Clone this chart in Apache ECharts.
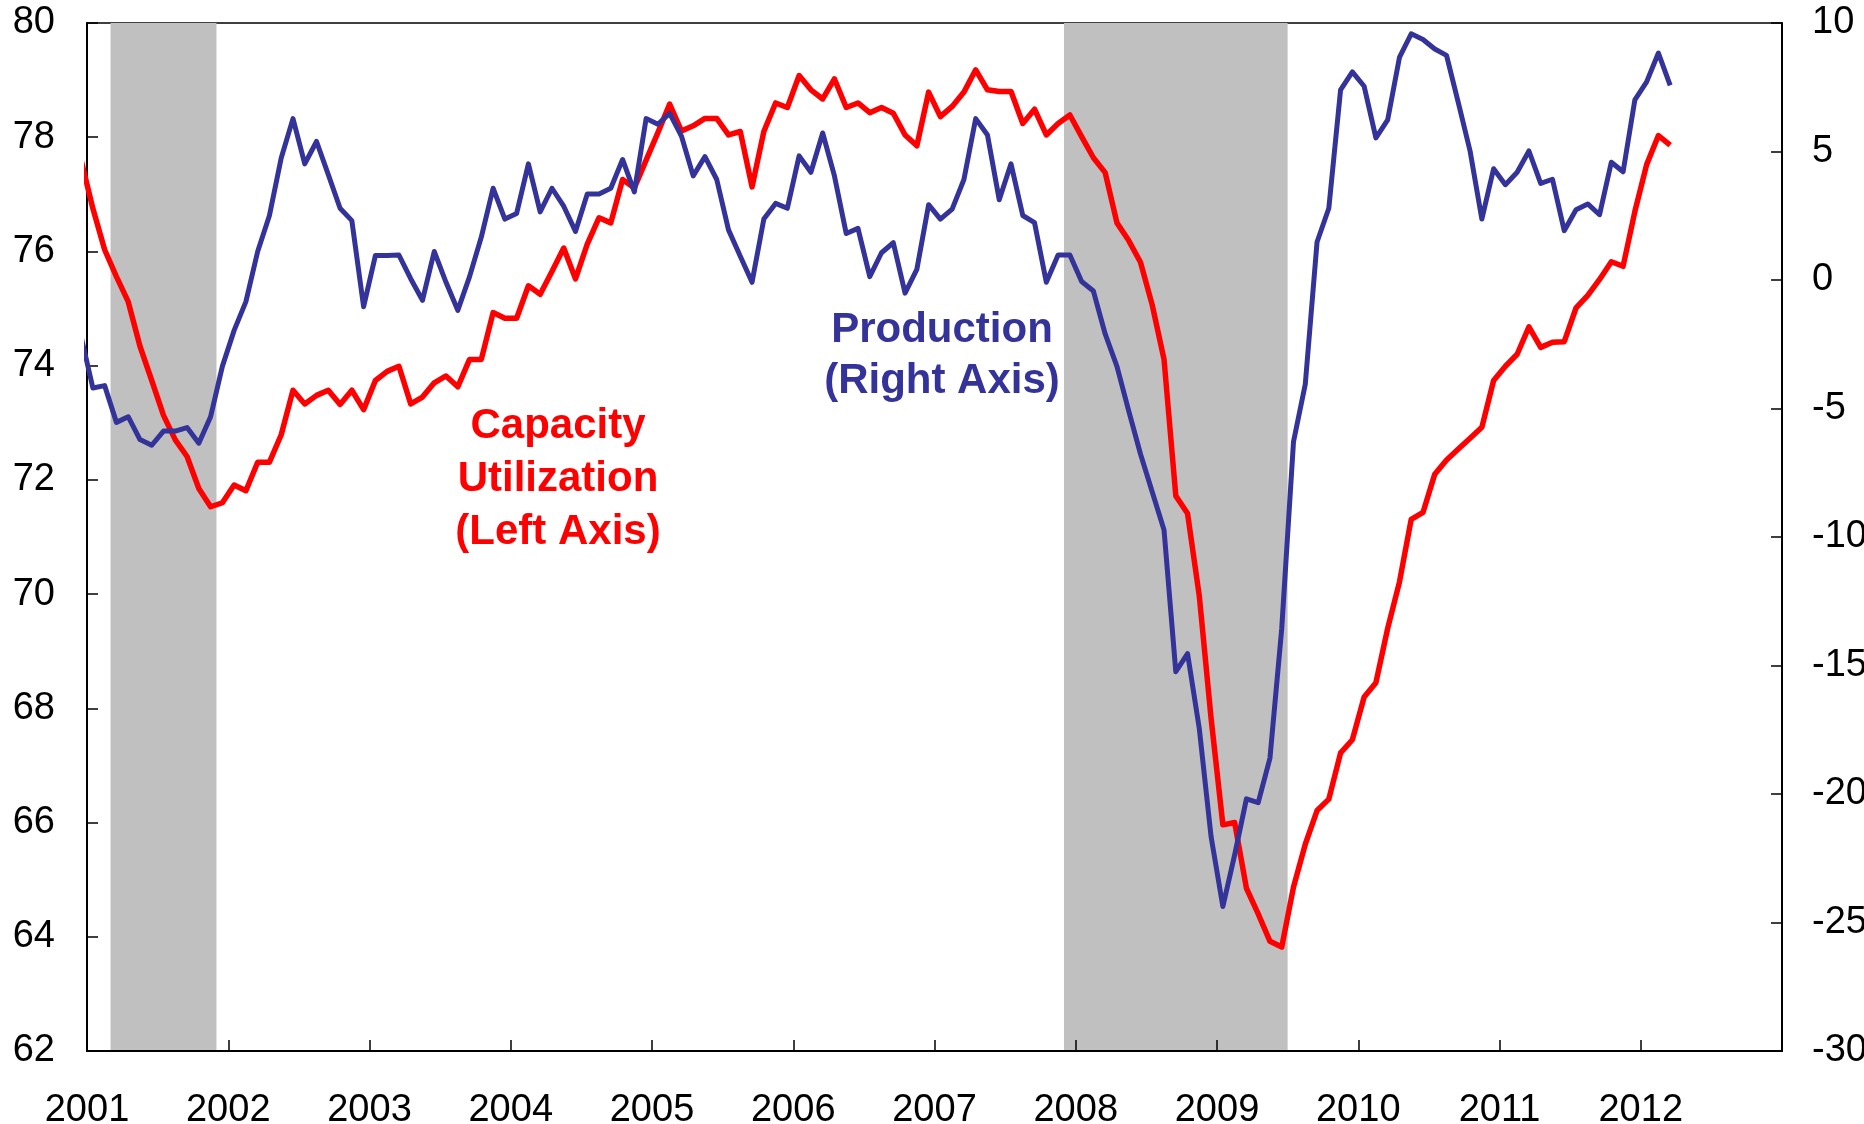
<!DOCTYPE html>
<html>
<head>
<meta charset="utf-8">
<script src="https://cdn.jsdelivr.net/npm/echarts@6/dist/echarts.min.js"></script>
<style>
    html, body { margin: 0; padding: 0; background: #ffffff; }
    #chartId { width: 1864px; height: 1124px; }
</style>
</head>
<body>
<div id="chartId"></div>
<script>
// first month in the series (Dec 2000), one value per month after it
const startYear = 2000;
const startMonth = 12;

// Capacity utilization, % (left axis), Dec 2000 .. Mar 2012
const capacityUtil = [
    77.6,
    76.75, 76.03, 75.56, 75.12, 74.34, 73.74, 73.13, 72.70, 72.41, 71.85, 71.53, 71.60,
    71.91, 71.81, 72.31, 72.31, 72.79, 73.57, 73.33, 73.48, 73.57, 73.32, 73.57, 73.23,
    73.74, 73.90, 73.99, 73.33, 73.45, 73.70, 73.82, 73.63, 74.11, 74.11, 74.93, 74.83,
    74.83, 75.40, 75.25, 75.65, 76.06, 75.52, 76.13, 76.59, 76.50, 77.26, 77.11, 77.60,
    78.08, 78.58, 78.11, 78.20, 78.33, 78.33, 78.04, 78.10, 77.13, 78.10, 78.60, 78.52,
    79.08, 78.83, 78.67, 79.02, 78.52, 78.60, 78.43, 78.52, 78.42, 78.04, 77.85, 78.79,
    78.36, 78.54, 78.79, 79.18, 78.83, 78.80, 78.80, 78.24, 78.49, 78.04, 78.24, 78.39,
    78.01, 77.64, 77.38, 76.50, 76.19, 75.81, 75.06, 74.11, 71.72, 71.41, 69.96, 67.82,
    65.96, 66.00, 64.85, 64.40, 63.92, 63.82, 64.87, 65.62, 66.21, 66.41, 67.22, 67.45,
    68.20, 68.45, 69.40, 70.21, 71.31, 71.43, 72.10, 72.35, 72.54, 72.73, 72.92, 73.74,
    73.99, 74.20, 74.68, 74.32, 74.41, 74.42, 75.01, 75.23, 75.51, 75.82, 75.74, 76.70,
    77.52, 78.03, 77.86
];

// Industrial production, % change from a year earlier (right axis)
const production = [
    -2.2,
    -4.20, -4.11, -5.54, -5.32, -6.21, -6.43, -5.88, -5.88, -5.74, -6.35, -5.32, -3.36,
    -1.96, -0.84, 1.11, 2.51, 4.75, 6.28, 4.52, 5.39, 4.10, 2.79, 2.31, -1.04,
    0.95, 0.95, 0.97, 0.05, -0.79, 1.11, -0.09, -1.18, 0.13, 1.67, 3.57, 2.37,
    2.59, 4.52, 2.65, 3.57, 2.87, 1.89, 3.35, 3.35, 3.57, 4.69, 3.43, 6.28,
    6.06, 6.48, 5.60, 4.05, 4.80, 3.91, 1.95, 0.92, -0.09, 2.37, 2.98, 2.79,
    4.83, 4.19, 5.72, 4.05, 1.81, 2.01, 0.13, 1.06, 1.45, -0.51, 0.41, 2.93,
    2.37, 2.76, 3.91, 6.28, 5.64, 3.12, 4.52, 2.51, 2.23, -0.09, 0.97, 0.97,
    -0.06, -0.43, -2.10, -3.36, -5.09, -6.77, -8.25, -9.73, -15.24, -14.54, -17.47, -21.67,
    -24.38, -22.37, -20.19, -20.34, -18.60, -13.56, -6.29, -4.06, 1.48, 2.79, 7.40, 8.10,
    7.54, 5.53, 6.23, 8.66, 9.58, 9.36, 8.99, 8.74, 6.90, 5.02, 2.37, 4.33,
    3.71, 4.19, 5.02, 3.76, 3.92, 1.92, 2.73, 2.96, 2.54, 4.58, 4.21, 7.01,
    7.71, 8.83, 7.57
];

// recessions, [start, end] in years
const recessions = [
    [2001 + 2 / 12, 2001 + 11 / 12],
    [2007 + 11 / 12, 2009.5]
];

const leftTicks = [62, 80, 2];    // min, max, step
const rightTicks = [-30, 10, 5];
const yearRange = [2001, 2013];

const FONT = '"Liberation Sans", Arial, Helvetica, sans-serif';

// month index -> decimal year (points sit mid-month)
function monthPos(i){
    return startYear + (startMonth - 0.5) / 12 + i / 12;
}

var chart = echarts.init(document.getElementById('chartId'));

let cuData = capacityUtil.map((v, i) => [monthPos(i), v]);
let ipData = production.map((v, i) => [monthPos(i), v]);

let areas = [];
for(let r of recessions){
    areas.push([{xAxis: r[0]}, {xAxis: r[1]}]);
}

var option = {
    animation: false,
    backgroundColor: '#ffffff',
    grid: {
        left: 87,
        right: 82,
        top: 23,
        bottom: 73,
        outerBoundsMode: 'none',
        containLabel: false,
        show: true,
        borderColor: '#000000',
        borderWidth: 1.5
    },
    xAxis: {
        type: 'value',
        min: yearRange[0],
        max: yearRange[1],
        interval: 1,
        z: 3,
        splitLine: { show: false },
        axisLine: { show: true, onZero: false, lineStyle: { color: '#000', width: 2 } },
        axisTick: { show: true, inside: true, length: 11, lineStyle: { color: '#000', width: 1.5 } },
        axisLabel: {
            margin: 41,
            fontFamily: FONT,
            fontSize: 38,
            color: '#000',
            formatter: function(v){ return v >= yearRange[1] ? '' : String(v); }
        }
    },
    yAxis: [
        {
            type: 'value',
            position: 'left',
            min: leftTicks[0],
            max: leftTicks[1],
            interval: leftTicks[2],
            z: 3,
            splitLine: { show: false },
            axisLine: { show: true, onZero: false, lineStyle: { color: '#000', width: 2 } },
            axisTick: { show: true, inside: true, length: 11, lineStyle: { color: '#000', width: 1.5 } },
            axisLabel: { margin: 32, fontFamily: FONT, fontSize: 38, color: '#000' }
        },
        {
            type: 'value',
            position: 'right',
            min: rightTicks[0],
            max: rightTicks[1],
            interval: rightTicks[2],
            z: 3,
            splitLine: { show: false },
            axisLine: { show: true, onZero: false, lineStyle: { color: '#000', width: 2 } },
            axisTick: { show: true, inside: true, length: 11, lineStyle: { color: '#000', width: 1.5 } },
            axisLabel: { margin: 30, fontFamily: FONT, fontSize: 38, color: '#000' }
        }
    ],
    series: [
        {
            name: 'recession',
            type: 'line',
            data: [],
            z: 1,
            silent: true,
            markArea: {
                silent: true,
                itemStyle: { color: '#c0c0c0', opacity: 1 },
                data: areas
            }
        },
        {
            name: 'Capacity Utilization',
            type: 'line',
            yAxisIndex: 0,
            data: cuData,
            showSymbol: false,
            z: 4,
            lineStyle: { color: '#ff0000', width: 5.5, join: 'round' }
        },
        {
            name: 'Production',
            type: 'line',
            yAxisIndex: 1,
            data: ipData,
            showSymbol: false,
            z: 5,
            lineStyle: { color: '#333399', width: 5, join: 'round' }
        }
    ],
    graphic: [
        {
            type: 'text',
            x: 558,
            y: 479,
            z: 10,
            style: {
                text: 'Capacity\nUtilization\n(Left Axis)',
                fill: '#ff0000',
                font: 'bold 42px ' + FONT,
                textAlign: 'center',
                textVerticalAlign: 'middle',
                align: 'center',
                verticalAlign: 'middle',
                lineHeight: 53
            }
        },
        {
            type: 'text',
            x: 942,
            y: 356,
            z: 10,
            style: {
                text: 'Production\n(Right Axis)',
                fill: '#333399',
                font: 'bold 42px ' + FONT,
                textAlign: 'center',
                textVerticalAlign: 'middle',
                align: 'center',
                verticalAlign: 'middle',
                lineHeight: 51
            }
        }
    ]
};

chart.setOption(option);
</script>
</body>
</html>
